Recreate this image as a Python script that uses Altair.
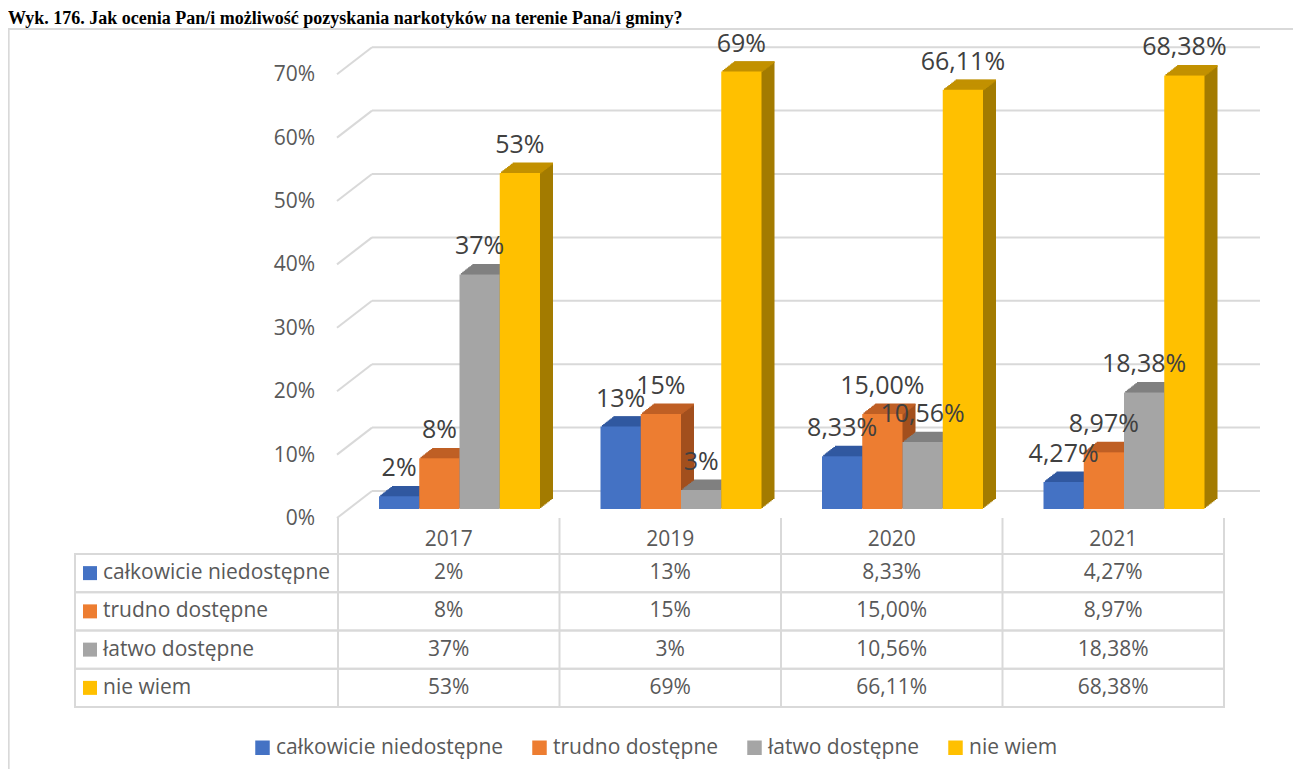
import altair as alt
import pandas as pd

# ---------------- data ----------------
years = ["2017", "2019", "2020", "2021"]
series = ["całkowicie niedostępne", "trudno dostępne", "łatwo dostępne", "nie wiem"]
calkowicie = [0.02, 0.13, 0.0833, 0.0427]
trudno = [0.08, 0.15, 0.15, 0.0897]
latwo = [0.37, 0.03, 0.1056, 0.1838]
nie_wiem = [0.53, 0.69, 0.6611, 0.6838]
lab_calkowicie = ["2%", "13%", "8,33%", "4,27%"]
lab_trudno = ["8%", "15%", "15,00%", "8,97%"]
lab_latwo = ["37%", "3%", "10,56%", "18,38%"]
lab_nie_wiem = ["53%", "69%", "66,11%", "68,38%"]
ticks = [0.0, 0.1, 0.2, 0.3, 0.4, 0.5, 0.6, 0.7]
tick_labels = ["0%", "10%", "20%", "30%", "40%", "50%", "60%", "70%"]
title_text = "Wyk. 176. Jak ocenia Pan/i możliwość pozyskania narkotyków na terenie Pana/i gminy?"

# ---------------- styles ----------------
front_colors = ["#4472C4", "#ED7D31", "#A5A5A5", "#FFC000"]
top_colors = ["#3158A0", "#BF5F24", "#808080", "#C29100"]
side_colors = ["#2C4D88", "#A24F1D", "#6F6F6F", "#A37B00"]
GRID = "#D9D9D9"
TXT = "#595959"
FONT = "Open Sans"

rows = []
for s, vals, labs in zip(series, [calkowicie, trudno, latwo, nie_wiem],
                         [lab_calkowicie, lab_trudno, lab_latwo, lab_nie_wiem]):
    for yv, v, l in zip(years, vals, labs):
        rows.append({"year": yv, "series": s, "value": v, "label": l})
df = pd.DataFrame(rows)
tick_df = pd.DataFrame({"tick": ticks, "tick_label": tick_labels})
series_df = pd.DataFrame({"series": series})
years_df = pd.DataFrame({"year": years})

W, H = 1285, 761
X_RANGE = [330, 1216]
Y_RANGE = [501, 57.2]
ROW_RANGE = [546, 699]
N = 9
DX = 13.0 / N
DY = 10.0 / N


def xband(**kw):
    return alt.X("year:N", scale=alt.Scale(domain=years, range=X_RANGE, paddingInner=0, paddingOuter=0),
                 axis=None, **kw)


def xoff(shift=0.0):
    return alt.XOffset("series:N", scale=alt.Scale(type="band", domain=series, range=[41 + shift, 202 + shift],
                                                   paddingInner=0, paddingOuter=0))


def xoff_text():
    # centres of the four front faces inside a year group
    return alt.XOffset("series:N", scale=alt.Scale(type="point", domain=series, range=[61.1, 181.9],
                                                   padding=0))


def yq(field):
    return alt.Y(f"{field}:Q", scale=alt.Scale(domain=[0, 0.7], range=Y_RANGE, nice=False), axis=None)


def yrow():
    return alt.Y("series:N", scale=alt.Scale(type="band", domain=series, range=ROW_RANGE,
                                             paddingInner=0, paddingOuter=0), axis=None)


def colr(colors, legend=None):
    if legend is None:
        return alt.Color("series:N", scale=alt.Scale(domain=series, range=colors), legend=None)
    return alt.Color("series:N", scale=alt.Scale(domain=series, range=colors), legend=legend)


layers = []

# outer frame
layers.append(alt.Chart(years_df).mark_rect(fillOpacity=0, stroke=GRID, strokeWidth=1.5).encode(
    x=alt.value(0.5), x2=alt.value(1300), y=alt.value(21), y2=alt.value(800)))

# title
layers.append(alt.Chart(pd.DataFrame({"t": [title_text]})).mark_text(
    align="left", baseline="alphabetic", font="Liberation Serif", fontWeight="bold", fontSize=18,
    color="black").encode(text="t:N", x=alt.value(0), y=alt.value(16)))

# back wall gridlines
layers.append(alt.Chart(tick_df).mark_rule(color=GRID, strokeWidth=2, yOffset=-18).encode(
    y=yq("tick"), x=alt.value(364), x2=alt.value(1252)))
# side-wall diagonals
layers.append(alt.Chart(tick_df).mark_rule(color=GRID, strokeWidth=2, yOffset=9, y2Offset=-18).encode(
    y=yq("tick"), y2=alt.Y2("tick"), x=alt.value(329), x2=alt.value(364)))
# y tick labels
layers.append(alt.Chart(tick_df).mark_text(align="right", baseline="middle", font=FONT, fontSize=21,
                                           color=TXT, yOffset=10).encode(
    y=yq("tick"), x=alt.value(307), text="tick_label:N"))

# 3D bars: side extrusion
for k in range(1, N + 1):
    layers.append(alt.Chart(df).mark_bar(yOffset=-k * DY, y2Offset=-k * DY).encode(
        x=xband(), xOffset=xoff(k * DX), y=yq("value"), color=colr(side_colors)))
# 3D bars: top faces
for k in range(1, N + 1):
    layers.append(alt.Chart(df).mark_bar(yOffset=-k * DY - 0.4, y2Offset=-(k - 1) * DY + 0.4).encode(
        x=xband(), xOffset=xoff(k * DX), y=yq("value"), y2=alt.Y2("value"), color=colr(top_colors)))
# front faces (+ legend)
legend = alt.Legend(orient="none", legendX=244, legendY=729, direction="horizontal", columns=4,
                    title=None, symbolType="square", symbolSize=210, symbolStrokeWidth=0,
                    labelFont=FONT, labelFontSize=21, labelColor=TXT, labelOffset=3, labelLimit=400,
                    columnPadding=25)
layers.append(alt.Chart(df).mark_bar().encode(
    x=xband(), xOffset=xoff(0), y=yq("value"), color=colr(front_colors, legend)))

# data labels
layers.append(alt.Chart(df).mark_text(font=FONT, fontSize=25, color="#404040", baseline="middle",
                                      yOffset=-28).encode(
    x=xband(), xOffset=xoff_text(), y=yq("value"), text="label:N"))

# ---------------- data table ----------------
layers.append(alt.Chart(series_df).mark_rect(fillOpacity=0, stroke=GRID, strokeWidth=2).encode(
    y=yrow(), x=alt.value(67), x2=alt.value(1216)))
layers.append(alt.Chart(years_df).mark_rule(color=GRID, strokeWidth=2).encode(
    x=xband(bandPosition=0), y=alt.value(510), y2=alt.value(699)))
layers.append(alt.Chart(years_df).mark_rule(color=GRID, strokeWidth=2).encode(
    x=alt.value(1216), y=alt.value(510), y2=alt.value(699)))
layers.append(alt.Chart(years_df).mark_text(font=FONT, fontSize=21, color=TXT, baseline="middle").encode(
    x=xband(), y=alt.value(532), text="year:N"))
layers.append(alt.Chart(series_df).mark_square(size=196, opacity=1).encode(
    x=alt.value(82), y=yrow(), color=colr(front_colors)))
layers.append(alt.Chart(series_df).mark_text(font=FONT, fontSize=21, color=TXT, align="left",
                                             baseline="middle").encode(
    x=alt.value(95), y=yrow(), text="series:N"))
layers.append(alt.Chart(df).mark_text(font=FONT, fontSize=21, color=TXT, baseline="middle").encode(
    x=xband(), y=yrow(), text="label:N"))

chart = alt.layer(*layers).resolve_scale(
    x="independent", y="independent", xOffset="independent", color="independent"
).properties(
    width=W, height=H, autosize=alt.AutoSizeParams(type="none"), padding=0, background="white"
).configure_view(stroke=None)

chart.save("out.html", embed_options={"renderer": "svg", "actions": False})
